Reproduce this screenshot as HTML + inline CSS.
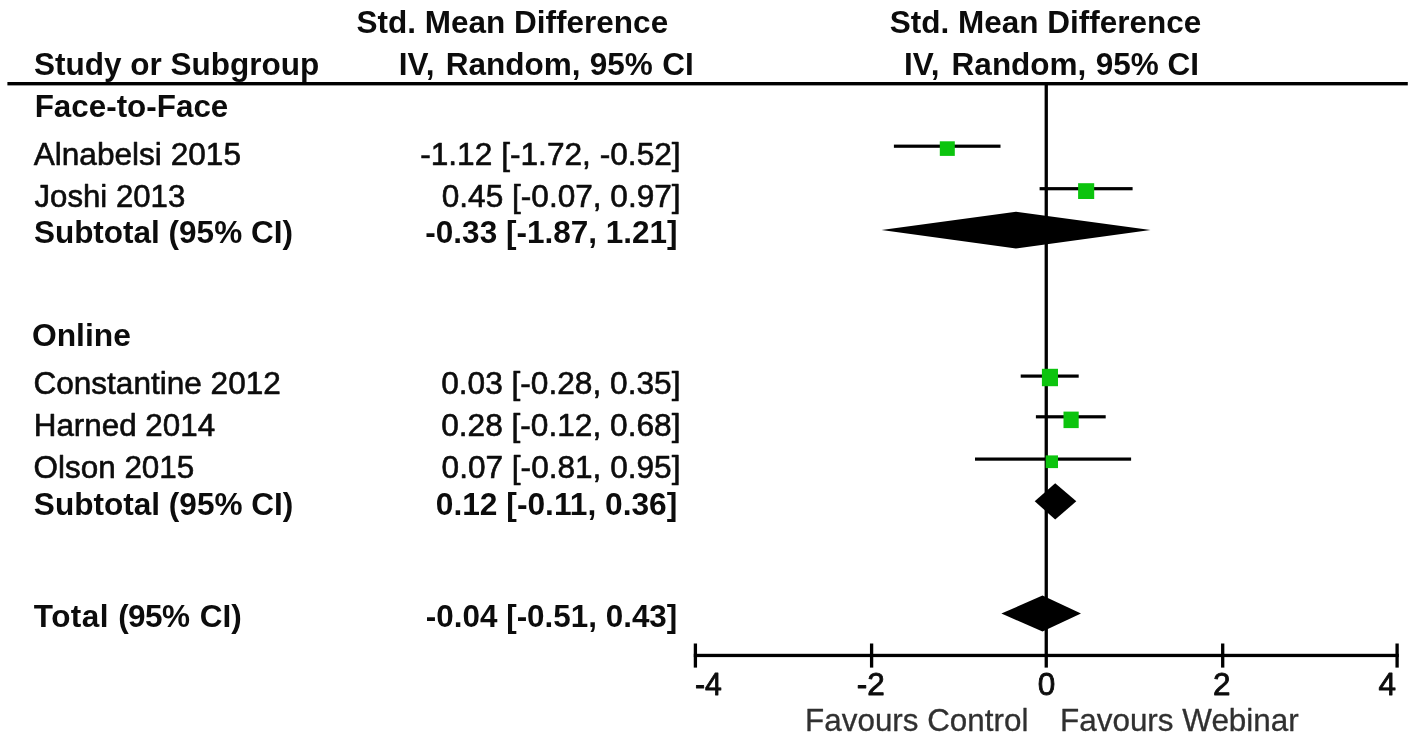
<!DOCTYPE html>
<html lang="en">
<head>
<meta charset="utf-8">
<title>Forest plot</title>
<style>
html,body{margin:0;padding:0;background:#fff;}
body{width:1418px;height:742px;overflow:hidden;}
svg{display:block;}
text{font-family:"Liberation Sans", Arial, Helvetica, sans-serif;font-size:31.5px;white-space:pre;}
text{stroke-width:0.6px;stroke-linejoin:round;paint-order:stroke fill;}
.b{font-weight:bold;stroke-width:0;}
.f{stroke-width:0.3px;}
.a{stroke-width:0.85px;}
svg{filter:blur(0.35px);}
</style>
</head>
<body>
<svg width="1418" height="742" viewBox="0 0 1418 742">
<rect x="0" y="0" width="1418" height="742" fill="#ffffff"/>
<rect x="7.4" y="82.0" width="1400.4" height="3.4" fill="#000"/>
<rect x="1044.6" y="83" width="3.3" height="584.6" fill="#000"/>
<rect x="693.8" y="653.8" width="705" height="3.3" fill="#000"/>
<rect x="693.75" y="643.5" width="3.3" height="24.1" fill="#000"/>
<rect x="869.95" y="643.5" width="3.3" height="24.1" fill="#000"/>
<rect x="1221.05" y="643.5" width="3.3" height="24.1" fill="#000"/>
<rect x="1395.45" y="643.5" width="3.3" height="24.1" fill="#000"/>
<rect x="893.9" y="144.60" width="106.60" height="3.2" fill="#000"/>
<rect x="1039.6" y="187.10" width="93.00" height="3.2" fill="#000"/>
<rect x="1020.7" y="374.50" width="58.00" height="3.2" fill="#000"/>
<rect x="1035.9" y="415.20" width="69.80" height="3.2" fill="#000"/>
<rect x="975.0" y="457.50" width="156.10" height="3.2" fill="#000"/>
<rect x="939.8" y="141.3" width="15.00" height="14.60" fill="#0cc40e"/>
<rect x="1078.1" y="183.2" width="16.10" height="15.80" fill="#0cc40e"/>
<rect x="1041.9" y="368.8" width="16.10" height="17.40" fill="#0cc40e"/>
<rect x="1063.5" y="411.6" width="15.20" height="16.50" fill="#0cc40e"/>
<rect x="1045.7" y="455.4" width="12.30" height="12.70" fill="#0cc40e"/>
<polygon points="881.5,230.1 1016.0,211.7 1150.5,230.1 1016.0,248.4" fill="#000"/>
<polygon points="1034.7,501.3 1055.2,483.3 1076.3,501.3 1055.2,519.5" fill="#000"/>
<polygon points="1001.4,613.6 1042.5,595.5 1081.0,613.6 1042.5,631.4" fill="#000"/>
<text id="h_study" class="b" x="34.03" y="74.90" fill="#0c0c0c">Study or Subgroup</text>
<text id="h_smd1" class="b" x="356.58" y="33.00" fill="#0c0c0c">Std. Mean Difference</text>
<text id="h_iv1" class="b" y="74.90" fill="#0c0c0c"><tspan x="398.87">IV, </tspan><tspan x="445.75">Random, </tspan><tspan x="589.64">95% </tspan><tspan x="662.30">CI</tspan></text>
<text id="h_smd2" class="b" x="889.80" y="33.00" fill="#0c0c0c">Std. Mean Difference</text>
<text id="h_iv2" class="b" y="74.90" fill="#0c0c0c"><tspan x="904.00">IV, </tspan><tspan x="951.61">Random, </tspan><tspan x="1095.64">95% </tspan><tspan x="1167.62">CI</tspan></text>
<text id="g1" class="b" x="34.68" y="117.00" textLength="193.63" lengthAdjust="spacingAndGlyphs" fill="#0c0c0c">Face-to-Face</text>
<text id="s1" x="33.67" y="164.90" textLength="207.31" lengthAdjust="spacingAndGlyphs" fill="#0c0c0c" stroke="#0c0c0c">Alnabelsi 2015</text>
<text id="s2" x="34.50" y="206.90" textLength="150.77" lengthAdjust="spacingAndGlyphs" fill="#0c0c0c" stroke="#0c0c0c">Joshi 2013</text>
<text id="st1" class="b" x="33.88" y="243.30" fill="#0c0c0c">Subtotal (95% CI)</text>
<text id="g2" class="b" x="31.90" y="346.30" textLength="99.02" lengthAdjust="spacingAndGlyphs" fill="#0c0c0c">Online</text>
<text id="s3" x="33.45" y="394.20" textLength="247.37" lengthAdjust="spacingAndGlyphs" fill="#0c0c0c" stroke="#0c0c0c">Constantine 2012</text>
<text id="s4" x="33.72" y="436.20" textLength="181.41" lengthAdjust="spacingAndGlyphs" fill="#0c0c0c" stroke="#0c0c0c">Harned 2014</text>
<text id="s5" x="33.57" y="478.10" textLength="160.76" lengthAdjust="spacingAndGlyphs" fill="#0c0c0c" stroke="#0c0c0c">Olson 2015</text>
<text id="st2" class="b" x="33.86" y="514.60" textLength="259.46" lengthAdjust="spacingAndGlyphs" fill="#0c0c0c">Subtotal (95% CI)</text>
<text id="tot" class="b" y="626.90" fill="#0c0c0c"><tspan x="33.84" style="letter-spacing:0.42px">Total </tspan><tspan x="118.18" style="letter-spacing:-0.55px">(95% </tspan><tspan x="199.66">CI)</tspan></text>
<text id="v1" x="420.18" y="164.90" textLength="260.48" lengthAdjust="spacingAndGlyphs" fill="#0c0c0c" stroke="#0c0c0c">-1.12 [-1.72, -0.52]</text>
<text id="v2" x="441.77" y="206.90" textLength="238.89" lengthAdjust="spacingAndGlyphs" fill="#0c0c0c" stroke="#0c0c0c">0.45 [-0.07, 0.97]</text>
<text id="vst1" class="b" x="425.36" y="243.30" fill="#0c0c0c">-0.33 [-1.87, 1.21]</text>
<text id="v3" x="441.17" y="394.20" textLength="239.29" lengthAdjust="spacingAndGlyphs" fill="#0c0c0c" stroke="#0c0c0c">0.03 [-0.28, 0.35]</text>
<text id="v4" x="441.17" y="436.20" textLength="239.29" lengthAdjust="spacingAndGlyphs" fill="#0c0c0c" stroke="#0c0c0c">0.28 [-0.12, 0.68]</text>
<text id="v5" x="441.57" y="478.10" textLength="238.89" lengthAdjust="spacingAndGlyphs" fill="#0c0c0c" stroke="#0c0c0c">0.07 [-0.81, 0.95]</text>
<text id="vst2" class="b" x="435.81" y="514.60" textLength="241.50" lengthAdjust="spacingAndGlyphs" fill="#0c0c0c">0.12 [-0.11, 0.36]</text>
<text id="vtot" class="b" x="425.86" y="626.90" textLength="251.43" lengthAdjust="spacingAndGlyphs" fill="#0c0c0c">-0.04 [-0.51, 0.43]</text>
<text id="a_m4" class="a" x="695.00" y="695.40" textLength="26.90" lengthAdjust="spacingAndGlyphs" fill="#0c0c0c" stroke="#0c0c0c">-4</text>
<text id="a_m2" class="a" x="856.74" y="695.40" fill="#0c0c0c" stroke="#0c0c0c">-2</text>
<text id="a_0" class="a" x="1037.82" y="695.40" fill="#0c0c0c" stroke="#0c0c0c">0</text>
<text id="a_2" class="a" x="1213.02" y="695.40" fill="#0c0c0c" stroke="#0c0c0c">2</text>
<text id="a_4" class="a" x="1378.62" y="695.40" fill="#0c0c0c" stroke="#0c0c0c">4</text>
<text id="fav1" class="f" x="805.11" y="731.30" textLength="223.28" lengthAdjust="spacingAndGlyphs" fill="#303030" stroke="#303030">Favours Control</text>
<text id="fav2" class="f" x="1060.00" y="731.30" textLength="238.76" lengthAdjust="spacingAndGlyphs" fill="#303030" stroke="#303030">Favours Webinar</text>
</svg>
</body>
</html>
